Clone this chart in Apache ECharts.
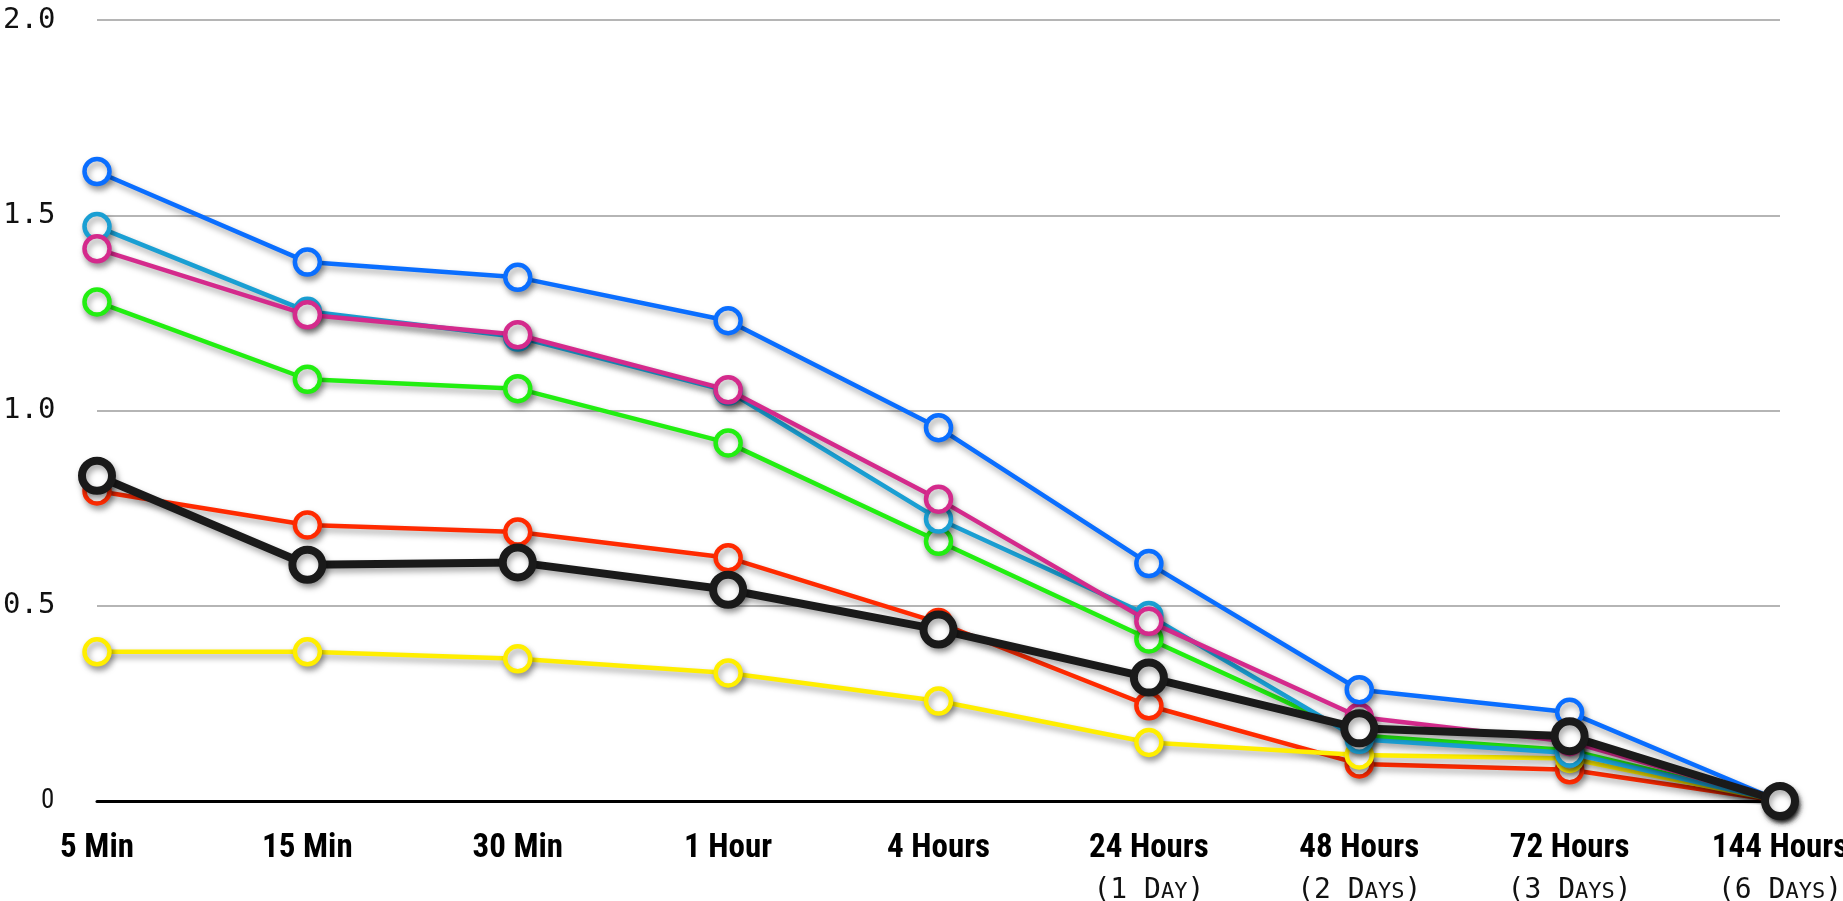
<!DOCTYPE html>
<html>
<head>
<meta charset="utf-8">
<script src="https://cdn.jsdelivr.net/npm/echarts@6/dist/echarts.min.js"></script>
<style>
html,body{margin:0;padding:0;background:#fff;}
#chart{width:1843px;height:901px;}
</style>
</head>
<body>
<div id="chart"></div>
<script>
const categories = ['5 Min', '15 Min', '30 Min', '1 Hour', '4 Hours', '24 Hours', '48 Hours', '72 Hours', '144 Hours'];
const subLabels = ['', '', '', '', '', '(1 Day)', '(2 Days)', '(3 Days)', '(6 Days)'];
const yTicks = [0, 0.5, 1.0, 1.5, 2.0];

const redValues     = [0.794, 0.707, 0.689, 0.623, 0.457, 0.244, 0.095, 0.08, 0];
const yellowValues  = [0.382, 0.382, 0.364, 0.328, 0.256, 0.150, 0.118, 0.109, 0];
const greenValues   = [1.278, 1.080, 1.056, 0.917, 0.665, 0.415, 0.168, 0.130, 0];
const cyanValues    = [1.471, 1.254, 1.188, 1.050, 0.722, 0.475, 0.158, 0.123, 0];
const magentaValues = [1.414, 1.245, 1.194, 1.053, 0.773, 0.460, 0.215, 0.152, 0];
const blueValues    = [1.612, 1.380, 1.341, 1.230, 0.956, 0.608, 0.285, 0.227, 0];
const blackValues   = [0.833, 0.605, 0.611, 0.541, 0.439, 0.316, 0.186, 0.166, 0];

const seriesDefs = [
  {name: 'Red', color: '#ff2a00', data: redValues},
  {name: 'Yellow', color: '#ffee00', data: yellowValues},
  {name: 'Green', color: '#22ee11', data: greenValues},
  {name: 'Cyan', color: '#1a9fd3', data: cyanValues},
  {name: 'Magenta', color: '#d42a8c', data: magentaValues},
  {name: 'Blue', color: '#0a6eff', data: blueValues},
  {name: 'Black', color: '#1a1a1a', data: blackValues, heavy: true}
];

function smallCaps(s) {
  let out = '';
  let buf = '', mode = null;
  for (const ch of s) {
    const m = (ch >= 'a' && ch <= 'z') ? 'c' : 's';
    if (m !== mode && buf) { out += '{' + mode + '|' + buf + '}'; buf = ''; }
    mode = m;
    buf += (m === 'c') ? ch.toUpperCase() : ch;
  }
  if (buf) out += '{' + mode + '|' + buf + '}';
  return out;
}

const chart = echarts.init(document.getElementById('chart'));
const monoFont = "'DejaVu Sans Mono', 'Liberation Mono', monospace";
const condFont = "'Liberation Sans Narrow', 'Roboto Condensed', 'Arial Narrow', 'Liberation Sans', sans-serif";

chart.setOption({
  animation: false,
  backgroundColor: '#ffffff',
  grid: {left: 97, right: 63, top: 20, bottom: 100, containLabel: false, outerBoundsMode: 'none'},
  xAxis: {
    type: 'category',
    data: categories,
    boundaryGap: false,
    axisLine: {show: true, lineStyle: {color: '#000', width: 3}},
    axisTick: {show: false},
    splitLine: {show: false},
    axisLabel: {
      interval: 0,
      margin: 34,
      formatter: function (v, i) {
        let s = '{t|' + v + '}';
        if (subLabels[i]) s += '\n' + smallCaps(subLabels[i]);
        return s;
      },
      rich: {
        t: {fontFamily: condFont, fontWeight: 'bold', fontSize: 33, color: '#000', lineHeight: 28},
        s: {fontFamily: monoFont, fontSize: 28, color: '#111', lineHeight: 42, verticalAlign: 'bottom'},
        c: {fontFamily: monoFont, fontSize: 22, color: '#111', lineHeight: 42, verticalAlign: 'bottom', padding: [0, 0, 2, 0]}
      }
    }
  },
  yAxis: {
    type: 'value',
    min: 0,
    max: 2,
    interval: 0.5,
    axisLine: {show: false},
    axisTick: {show: false},
    splitLine: {show: true, lineStyle: {color: '#b5b5b5', width: 2}},
    axisLabel: {
      align: 'left',
      margin: 94,
      formatter: function (v) {
        if (Math.abs(v) < 1e-9) return '{z|0}';
        return '{m|' + v.toFixed(1) + '}';
      },
      rich: {
        m: {fontFamily: monoFont, fontSize: 29, color: '#111'},
        z: {fontFamily: condFont, fontSize: 27, color: '#111', padding: [0, 0, 0, 38]}
      }
    }
  },
  series: seriesDefs.map(function (d, idx) {
    return {
      name: d.name,
      type: 'line',
      data: d.data,
      z: 2 + idx,
      symbol: 'circle',
      symbolSize: d.heavy ? 30 : 25,
      lineStyle: {
        color: d.color,
        width: d.heavy ? 8 : 4.5,
        shadowColor: 'rgba(0,0,0,0.35)',
        shadowBlur: 6,
        shadowOffsetX: 2,
        shadowOffsetY: 4
      },
      itemStyle: {
        color: '#ffffff',
        borderColor: d.color,
        borderWidth: d.heavy ? 8 : 4.5,
        shadowColor: 'rgba(0,0,0,0.35)',
        shadowBlur: 6,
        shadowOffsetX: 2,
        shadowOffsetY: 4
      },
      emphasis: {disabled: true}
    };
  })
});
</script>
</body>
</html>
